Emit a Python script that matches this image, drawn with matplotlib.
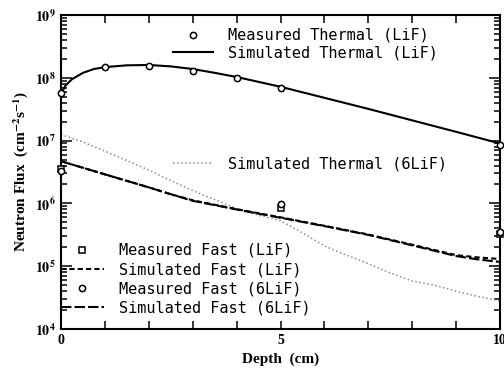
import math

import matplotlib
matplotlib.use("Agg")
import matplotlib.pyplot as plt
from matplotlib.ticker import FixedLocator, LogLocator, FuncFormatter, NullFormatter

# measured thermal (LiF)
meas_th_x = [0, 1, 2, 3, 4, 5, 10]
meas_th_y = [5.7e7, 1.5e8, 1.55e8, 1.28e8, 9.9e7, 6.9e7, 8.5e6]

# measured fast (LiF / 6LiF)
meas_fast_lif_x = [0, 5, 10]
meas_fast_lif_y = [3.5e6, 8.6e5, 3.3e5]
meas_fast_6lif_x = [0, 5, 10]
meas_fast_6lif_y = [3.3e6, 9.8e5, 3.5e5]

# simulated thermal (LiF)
sim_th_x = [0, 0.1, 0.25, 0.5, 0.75, 1, 1.5, 2, 2.5, 3, 3.5, 4, 5, 6, 7, 8, 9, 10]
sim_th_y = [5.5e7, 7.5e7, 9.5e7, 1.2e8, 1.38e8, 1.48e8, 1.58e8, 1.6e8, 1.52e8, 1.38e8,
            1.2e8, 1.03e8, 7.2e7, 4.8e7, 3.2e7, 2.1e7, 1.38e7, 9.0e6]

# simulated thermal (6LiF)
sim_th6_x = [0, 0.5, 1, 1.5, 2, 2.5, 3, 3.5, 4, 4.5, 5, 5.5, 6, 6.5, 7, 7.5, 8, 8.5, 9, 9.5, 10]
sim_th6_y = [1.25e7, 9.5e6, 6.8e6, 4.8e6, 3.4e6, 2.3e6, 1.6e6, 1.15e6, 8.3e5, 6.5e5,
             5.3e5, 3.4e5, 2.1e5, 1.5e5, 1.1e5, 7.8e4, 5.8e4, 5.0e4, 4.0e4, 3.3e4, 2.8e4]

# simulated fast
sim_fast_x = [0, 1, 2, 2.5, 3, 4, 5, 6, 7, 8, 9, 9.5, 10]
sim_fast_lif_y = [4.7e6, 2.9e6, 1.8e6, 1.4e6, 1.12e6, 8.1e5, 6.0e5, 4.4e5, 3.2e5, 2.2e5,
                  1.5e5, 1.38e5, 1.3e5]
sim_fast_6lif_y = [4.7e6, 2.9e6, 1.8e6, 1.4e6, 1.1e6, 8.0e5, 5.9e5, 4.35e5, 3.15e5, 2.15e5,
                   1.45e5, 1.28e5, 1.17e5]

plt.rcParams['font.family'] = 'serif'
plt.rcParams['font.serif'] = ['Liberation Serif', 'DejaVu Serif']
plt.rcParams['mathtext.fontset'] = 'stix'

fig = plt.figure(figsize=(5.04, 3.71), dpi=100)
ax = fig.add_axes([61 / 504, 42 / 371, 439 / 504, 314 / 371])

l_mth, = ax.plot(meas_th_x, meas_th_y, 'o', mfc='white', mec='black', ms=4.5, mew=1.1,
                 linestyle='none', clip_on=False, zorder=5)
l_sth, = ax.plot(sim_th_x, sim_th_y, '-', color='black', lw=1.5)
l_sth6, = ax.plot(sim_th6_x, sim_th6_y, ':', color='#8c8c8c', lw=1.1)
l_sfl, = ax.plot(sim_fast_x, sim_fast_lif_y, color='black', lw=1.5, dashes=(2.5, 1.5))
l_sf6, = ax.plot(sim_fast_x, sim_fast_6lif_y, color='black', lw=1.5, dashes=(5, 1.5))
l_mfl, = ax.plot(meas_fast_lif_x, meas_fast_lif_y, 's', mfc='white', mec='black', ms=4,
                 mew=1.1, linestyle='none', clip_on=False, zorder=5)
l_mf6, = ax.plot(meas_fast_6lif_x, meas_fast_6lif_y, 'o', mfc='white', mec='black', ms=4.5,
                 mew=1.1, linestyle='none', clip_on=False, zorder=5)

ax.set_yscale('log')
ax.set_xlim(0, 10)
ax.set_ylim(1e4, 1e9)

ax.xaxis.set_major_locator(FixedLocator([0, 5, 10]))
ax.xaxis.set_minor_locator(FixedLocator([1, 2, 3, 4, 6, 7, 8, 9]))
ax.xaxis.set_major_formatter(FuncFormatter(lambda v, p: '%d' % v))
ax.yaxis.set_major_locator(LogLocator(base=10, numticks=10))
ax.yaxis.set_minor_locator(LogLocator(base=10, subs=range(2, 10), numticks=20))
ax.yaxis.set_minor_formatter(NullFormatter())
ax.yaxis.set_major_formatter(FuncFormatter(lambda v, p: r'$\mathbf{10^{%d}}$' % round(math.log10(v))))

ax.tick_params(which='both', direction='in', top=True, right=True, width=1.1,
               labelsize=10)
ax.tick_params(axis='x', which='both', length=6)
ax.tick_params(axis='y', which='major', length=8)
ax.tick_params(axis='y', which='minor', length=4)
for lab in ax.get_xticklabels():
    lab.set_fontweight('bold')
for s in ax.spines.values():
    s.set_linewidth(1.5)

ax.set_xlabel('Depth  (cm)', fontsize=11, fontweight='bold', labelpad=4)
ax.set_ylabel(r'Neutron Flux  (cm$^{\mathbf{-2}}$s$^{\mathbf{-1}}$)', fontsize=11,
              fontweight='bold', labelpad=4)

mono = {'family': 'DejaVu Sans Mono', 'size': 11}
leg_kw = dict(frameon=False, prop=mono, borderpad=0, borderaxespad=0,
              handletextpad=1.0, loc='upper left')

leg1 = ax.legend([l_mth, l_sth], ['Measured Thermal (LiF)', 'Simulated Thermal (LiF)'],
                 bbox_to_anchor=(0.255, 0.959), handlelength=2.6, labelspacing=0.18,
                 **leg_kw)
ax.add_artist(leg1)
leg2 = ax.legend([l_sth6], ['Simulated Thermal (6LiF)'],
                 bbox_to_anchor=(0.255, 0.55), handlelength=2.6, **leg_kw)
ax.add_artist(leg2)
leg3 = ax.legend([l_mfl, l_sfl, l_mf6, l_sf6],
                 ['Measured Fast (LiF)', 'Simulated Fast (LiF)',
                  'Measured Fast (6LiF)', 'Simulated Fast (6LiF)'],
                 bbox_to_anchor=(0.0, 0.274), handlelength=2.8, labelspacing=0.28,
                 **leg_kw)

fig.savefig('out.png', dpi=100)
